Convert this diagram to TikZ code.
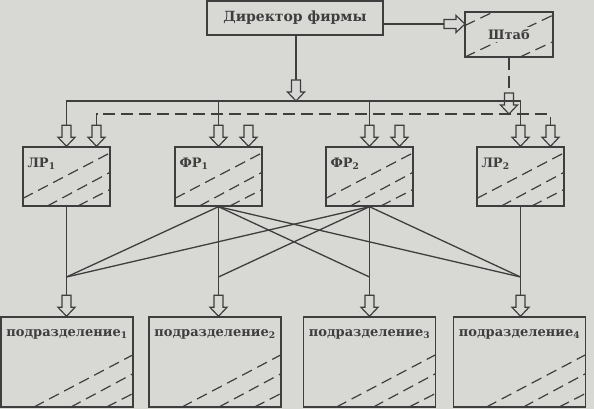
\documentclass[tikz,border=0pt]{standalone}
\usepackage{fontspec}
\setmainfont{DejaVu Serif}
\usetikzlibrary{calc}
\definecolor{bg}{RGB}{216,216,213}
\definecolor{ink}{RGB}{62,62,62}
\tikzset{
  box/.style={draw=ink, line width=1.4pt, fill=bg, inner sep=0pt, rectangle},
  txt/.style={text=ink, font=\fontsize{13}{15}\selectfont\bfseries, inner sep=0pt},
  conn/.style={draw=ink, line width=1.3pt},
  dconn/.style={conn, dash pattern=on 12pt off 6pt},
  hatch/.style={draw=ink, line width=1.2pt, dash pattern=on 11pt off 6pt},
  pics/harrow/.style={code={
    \draw[draw=ink, line width=1.2pt, fill=bg, line join=miter]
      (0,0) -- (-8.5,-9) -- (-4.5,-9) -- (-4.5,-21) -- (4.5,-21) -- (4.5,-9) -- (8.5,-9) -- cycle;}},
  rowhatch/.style={path picture={
    \draw[hatch] ($(path picture bounding box.south west)!0.13!(path picture bounding box.north west)$) -- ($(path picture bounding box.south east)!0.9!(path picture bounding box.north east)$);
    \draw[hatch] ($(path picture bounding box.south west)!0.28!(path picture bounding box.south east)$) -- ($(path picture bounding box.south east)!0.57!(path picture bounding box.north east)$);
    \draw[hatch] ($(path picture bounding box.south west)!0.63!(path picture bounding box.south east)$) -- ($(path picture bounding box.south east)!0.28!(path picture bounding box.north east)$);
  }},
  bothatch/.style={path picture={
    \draw[hatch] ($(path picture bounding box.south west)!0.25!(path picture bounding box.south east)$) -- ($(path picture bounding box.south east)!0.58!(path picture bounding box.north east)$);
    \draw[hatch] ($(path picture bounding box.south west)!0.53!(path picture bounding box.south east)$) -- ($(path picture bounding box.south east)!0.37!(path picture bounding box.north east)$);
    \draw[hatch] ($(path picture bounding box.south west)!0.8!(path picture bounding box.south east)$) -- ($(path picture bounding box.south east)!0.15!(path picture bounding box.north east)$);
  }},
  stabhatch/.style={path picture={
    \draw[hatch] ($(path picture bounding box.south west)!0.7!(path picture bounding box.north west)$) -- ($(path picture bounding box.north west)!0.32!(path picture bounding box.north east)$);
    \draw[hatch] (path picture bounding box.south west) -- ($(path picture bounding box.south east)!0.93!(path picture bounding box.north east)$);
    \draw[hatch] ($(path picture bounding box.south west)!0.625!(path picture bounding box.south east)$) -- ($(path picture bounding box.south east)!0.34!(path picture bounding box.north east)$);
  }},
  rowbox/.style={box, rowhatch, minimum width=87pt, minimum height=59pt},
  botbox/.style={box, bothatch, minimum width=132pt, minimum height=90pt},
}
\begin{document}
\begin{tikzpicture}[x=1pt, y=-1pt]
  \useasboundingbox (0,0) rectangle (594,409);
  \fill[bg] (0,0) rectangle (594,409);

  % top boxes
  \node[box, minimum width=176pt, minimum height=34pt, txt, font=\fontsize{14}{16}\selectfont\bfseries] (dir) at (295,18) {Директор фирмы};
  \node[box, stabhatch, minimum width=88pt, minimum height=45pt] (shtab) at (509,34.5) {};
  \node[txt, fill=bg, inner sep=2pt] (shtabt) at (shtab.center) {Штаб};

  % row of ЛР / ФР boxes
  \node[rowbox] (lr1) at (66.5,176.5) {};
  \node[rowbox] (fr1) at (218.5,176.5) {};
  \node[rowbox] (fr2) at (369.5,176.5) {};
  \node[rowbox] (lr2) at (520.5,176.5) {};
  \node[txt, anchor=base west] (lr1t) at ($(lr1.north west)+(5,21)$) {ЛР\textsubscript{1}};
  \node[txt, anchor=base west] (fr1t) at ($(fr1.north west)+(5,21)$) {ФР\textsubscript{1}};
  \node[txt, anchor=base west] (fr2t) at ($(fr2.north west)+(5,21)$) {ФР\textsubscript{2}};
  \node[txt, anchor=base west] (lr2t) at ($(lr2.north west)+(5,21)$) {ЛР\textsubscript{2}};

  % bottom boxes
  \node[botbox] (b1) at (67,362) {};
  \node[botbox] (b2) at (215,362) {};
  \node[botbox] (b3) at (369.5,362) {};
  \node[botbox] (b4) at (519.5,362) {};
  \node[txt, anchor=base] (b1t) at ($(b1.north)+(0,20)$) {подразделение\textsubscript{1}};
  \node[txt, anchor=base] (b2t) at ($(b2.north)+(0,20)$) {подразделение\textsubscript{2}};
  \node[txt, anchor=base] (b3t) at ($(b3.north)+(0,20)$) {подразделение\textsubscript{3}};
  \node[txt, anchor=base] (b4t) at ($(b4.north)+(0,20)$) {подразделение\textsubscript{4}};

  % coordinates
  \coordinate (busL) at (66.5,101);
  \coordinate (busR) at (520.5,101);
  \coordinate (dbusL) at (96.5,114);
  \coordinate (dbusR) at (550.5,114);
  \coordinate (sa) at (465,24);
  \coordinate (j1) at (66.5,277);
  \coordinate (j2) at (218.5,277);
  \coordinate (j3) at (369.5,277);
  \coordinate (j4) at (520.5,277);

  % director -> Штаб
  \draw[conn] (dir.east |- sa) -- ($(sa)+(-21,0)$);
  \pic[rotate=90] at (sa) {harrow};

  % director -> solid bus
  \draw[conn] (dir.south -| 296,0) -- (296,80);
  \pic at (296,101) {harrow};

  % Штаб -> dashed bus
  \draw[dconn] (shtab.south) -- (509,93);
  \pic at (509,114) {harrow};

  % solid bus
  \draw[conn] ($(lr1.north)+(0,-21)$) -- (busL) -- (busR) -- ($(lr2.north)+(0,-21)$);
  \draw[conn] (fr1.north |- busL) -- ($(fr1.north)+(0,-21)$);
  \draw[conn] (fr2.north |- busL) -- ($(fr2.north)+(0,-21)$);
  \foreach \b in {lr1,fr1,fr2,lr2}
    \pic at (\b.north) {harrow};

  % dashed bus
  \draw[dconn] ($(lr1.north)+(30,-21)$) -- (dbusL) -- (dbusR) -- ($(lr2.north)+(30,-21)$);
  \draw[conn] ($(fr1.north)+(30,0)$ |- dbusL) -- ($(fr1.north)+(30,-21)$);
  \draw[conn] ($(fr2.north)+(30,0)$ |- dbusL) -- ($(fr2.north)+(30,-21)$);
  \foreach \b in {lr1,fr1,fr2,lr2}
    \pic at ($(\b.north)+(30,0)$) {harrow};

  % links to departments
  \draw[conn] (lr1.south) -- (j1);
  \draw[conn] (fr1.south) -- (j2);
  \draw[conn] (fr2.south) -- (j3);
  \draw[conn] (lr2.south) -- (j4);
  \foreach \f/\t in {fr1/j1, fr1/j3, fr1/j4, fr2/j1, fr2/j2, fr2/j4}
    \draw[conn] (\f.south) -- (\t);
  \foreach \j/\b in {j1/b1, j2/b2, j3/b3, j4/b4}{
    \draw[conn] (\j) -- ($(\j |- \b.north)+(0,-21)$);
    \pic at (\j |- \b.north) {harrow};
  }
\end{tikzpicture}
\end{document}
